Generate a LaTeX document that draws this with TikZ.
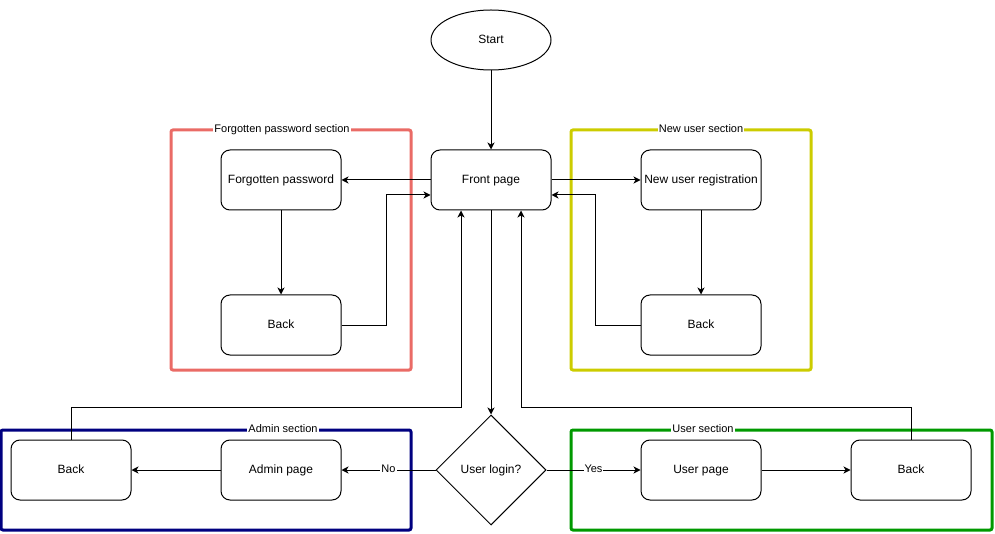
\documentclass[tikz,border=0pt]{standalone}
\usepackage{fontspec}
\setmainfont{Liberation Sans}
\usetikzlibrary{shapes.geometric,arrows.meta}
\definecolor{fpred}{HTML}{EA6B66}
\definecolor{nuyel}{HTML}{CCCC00}
\definecolor{adblue}{HTML}{000080}
\definecolor{usgreen}{HTML}{009900}
\begin{document}
\begin{tikzpicture}[x=1pt,y=-1pt,line width=1pt,
  txt/.style={font=\fontsize{12}{14}\selectfont,text height=8.8pt,text depth=2.6pt},
  box/.style={draw,rounded corners=9pt,minimum width=120pt,minimum height=60pt,inner sep=0pt,txt},
  startnode/.style={draw,ellipse,minimum width=120pt,minimum height=60pt,inner sep=0pt,txt},
  decision/.style={draw,diamond,aspect=1,minimum width=110pt,minimum height=110pt,inner sep=0pt,txt},
  conn/.style={draw,-{Stealth[length=7pt,width=7pt,inset=2pt]},line width=1pt},
  frame/.style={draw,line width=3pt,rounded corners=2pt},
  seclabel/.style={fill=white,inner sep=1pt,font=\fontsize{11}{13}\selectfont,text height=8pt,text depth=2.4pt},
  lbl/.style={fill=white,inner sep=1pt,font=\fontsize{11}{13}\selectfont,text height=8pt,text depth=2.4pt}
]
\useasboundingbox (0,0) rectangle (995,534);

% section frames
\draw[frame,fpred] (171,130) rectangle (411,370);
\node[seclabel] (lfp) at (282,130) {Forgotten password section};
\draw[frame,nuyel] (571,130) rectangle (811,370);
\node[seclabel] (lnu) at (701,130) {New user section};
\draw[frame,adblue] (1,430) rectangle (411,530);
\node[seclabel] (lad) at (283,430) {Admin section};
\draw[frame,usgreen] (571,430) rectangle (992,530);
\node[seclabel] (lus) at (703,430) {User section};

% nodes
\node[startnode] (start) at (491,40) {Start};
\node[box] (fp) at (491,180) {Front page};
\node[box] (fgp) at (281,180) {Forgotten password};
\node[box] (bfg) at (281,325) {Back};
\node[box] (nur) at (701,180) {New user registration};
\node[box] (bnu) at (701,325) {Back};
\node[decision] (ul) at (491,470) {User login?};
\node[box] (ap) at (281,470) {Admin page};
\node[box] (bad) at (71,470) {Back};
\node[box] (up) at (701,470) {User page};
\node[box] (bus) at (911,470) {Back};

% connectors
\draw[conn] (start) -- (fp);
\draw[conn] (fp.west) -- (fgp.east);
\draw[conn] (fgp) -- (bfg);
\draw[conn] (bfg.east) -- ++(45,0) |- ([yshift=-15pt]fp.west);
\draw[conn] (fp.east) -- (nur.west);
\draw[conn] (nur) -- (bnu);
\draw[conn] (bnu.west) -- ++(-45,0) |- ([yshift=-15pt]fp.east);
\draw[conn] (fp) -- (ul);
\draw[conn] (bad.north) -- ++(0,-32) -| ([xshift=-30pt]fp.south);
\draw[conn] (bus.north) -- ++(0,-32) -| ([xshift=30pt]fp.south);
\draw[conn] (ul.west) -- node[lbl] {No} (ap.east);
\draw[conn] (ul.east) -- node[lbl] {Yes} (up.west);
\draw[conn] (ap) -- (bad);
\draw[conn] (up) -- (bus);
\end{tikzpicture}
\end{document}
